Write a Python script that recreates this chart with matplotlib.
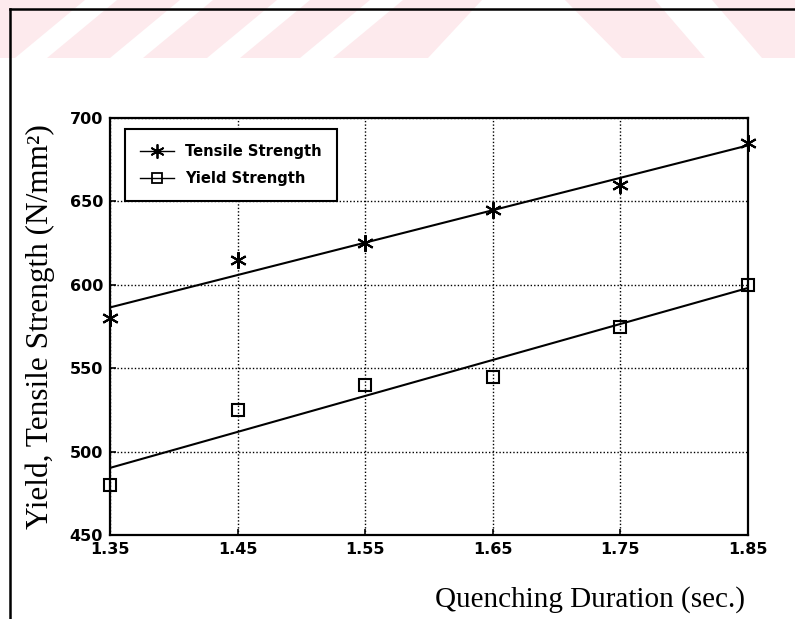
"""Quenching duration vs. yield / tensile strength, with linear fits."""

import matplotlib
matplotlib.use("Agg")
import matplotlib.pyplot as plt
import numpy as np
from matplotlib.lines import Line2D
from matplotlib.patches import Polygon

duration = [1.35, 1.45, 1.55, 1.65, 1.75, 1.85]
tensile = [580, 615, 625, 645, 660, 685]
yield_strength = [480, 525, 540, 545, 575, 600]

x_ticks = [1.35, 1.45, 1.55, 1.65, 1.75, 1.85]
y_ticks = [450, 500, 550, 600, 650, 700]

W, H = 795, 619
fig = plt.figure(figsize=(W / 100, H / 100), dpi=100)


def px(pts):
    # pixel coords (y down) -> figure fraction
    return [(x / W, 1 - y / H) for x, y in pts]


# faint watermark band along the top of the scan
fig.patches.append(Polygon(px([(0, 0), (W, 0), (W, 58), (0, 58)]),
                           closed=True, transform=fig.transFigure,
                           fc="#fdeaed", ec="none", zorder=0))
gaps = [
    [(15, 58), (47, 58), (117, 0), (85, 0)],
    [(110, 58), (143, 58), (213, 0), (180, 0)],
    [(207, 58), (240, 58), (310, 0), (277, 0)],
    [(300, 58), (333, 58), (403, 0), (370, 0)],
    [(428, 58), (622, 58), (565, 0), (482, 0)],
    [(705, 58), (762, 58), (712, 0), (655, 0)],
]
for g in gaps:
    fig.patches.append(Polygon(px(g), closed=True, transform=fig.transFigure,
                               fc="white", ec="none", zorder=0))

# page frame (left and top edges of the scanned box)
fig.add_artist(Line2D([10 / W, 10 / W], [0, 1 - 9 / H], color="black", lw=1.8))
fig.add_artist(Line2D([10 / W, 1], [1 - 9 / H, 1 - 9 / H], color="black", lw=1.8))

ax = fig.add_axes([110 / W, 1 - 535 / H, 638 / W, 417 / H])

dur = np.array(duration)
for vals, mk, ms, label in [(tensile, (6, 2, 0), 12, "Tensile Strength"),
                            (yield_strength, "s", 8, "Yield Strength")]:
    k, b = np.polyfit(dur, vals, 1)
    ax.plot(dur, k * dur + b, color="black", lw=1.5, zorder=3)
    ax.plot(dur, vals, ls="none", marker=mk, ms=ms, mfc="none", mec="black",
            mew=1.5, zorder=4, clip_on=False)
    # legend proxy: line through marker
    ax.plot([], [], color="black", lw=1, marker=mk, ms=ms * 0.85, mfc="none",
            mec="black", mew=1.3, label=label)

ax.set_xlim(1.35, 1.85)
ax.set_ylim(450, 700)
ax.set_xticks(x_ticks)
ax.set_yticks(y_ticks)
ax.set_xticklabels([f"{t:.2f}" for t in x_ticks])
ax.grid(True, color="black", ls=(0, (1, 1.5)), lw=1)
ax.tick_params(direction="in", length=4, width=1.2, pad=5,
               top=False, right=False)
for lab in ax.get_xticklabels() + ax.get_yticklabels():
    lab.set_fontweight("bold")
    lab.set_fontsize(11.5)
for s in ax.spines.values():
    s.set_linewidth(1.6)

leg = ax.legend(loc="upper left", bbox_to_anchor=(15 / 638, 406 / 417),
                borderaxespad=0, fancybox=False, framealpha=1,
                edgecolor="black", handlelength=2.3, borderpad=1.0,
                labelspacing=0.85, handletextpad=0.8,
                prop={"weight": "bold", "size": 10.6})
leg.get_frame().set_linewidth(1.5)

fig.text(40 / W, 1 - 327 / H, "Yield, Tensile Strength (N/mm²)",
         rotation=90, ha="center", va="center",
         family="Liberation Serif", fontsize=22.5)
fig.text(745 / W, 1 - 600 / H, "Quenching Duration (sec.)",
         ha="right", va="center", family="Liberation Serif", fontsize=21)

fig.savefig("out.png", dpi=100)
